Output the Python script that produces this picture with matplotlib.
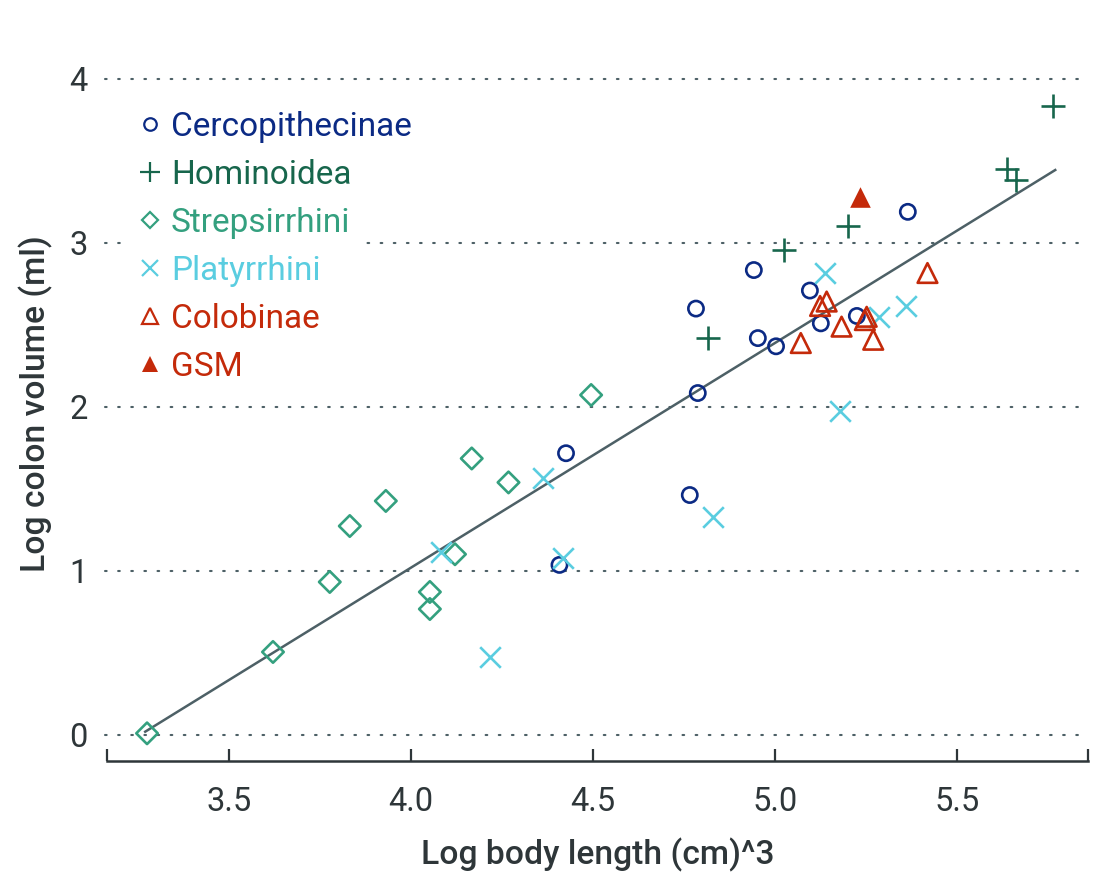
import matplotlib
matplotlib.use("Agg")
import matplotlib.pyplot as plt
from matplotlib.lines import Line2D
from matplotlib.patches import Rectangle

plt.rcParams['font.family'] = ['Roboto', 'DejaVu Sans']

# ---- data ----
cerco_x = [5.365, 4.942, 4.783, 5.096, 4.953, 5.003, 5.126, 5.225, 4.788, 4.426, 4.766, 4.408]
cerco_y = [3.19, 2.835, 2.60, 2.71, 2.42, 2.37, 2.51, 2.555, 2.085, 1.718, 1.463, 1.037]

homin_x = [5.764, 5.637, 5.662, 5.202, 5.025, 4.817]
homin_y = [3.835, 3.45, 3.385, 3.105, 2.96, 2.42]

strep_x = [3.275, 3.621, 3.777, 3.832, 3.931, 4.167, 4.268, 4.495, 4.052, 4.052, 4.121]
strep_y = [0.01, 0.506, 0.933, 1.274, 1.427, 1.686, 1.54, 2.073, 0.872, 0.768, 1.102]

platy_x = [5.137, 5.359, 5.286, 5.179, 4.363, 4.830, 4.419, 4.082, 4.217]
platy_y = [2.82, 2.618, 2.549, 1.976, 1.565, 1.329, 1.082, 1.113, 0.476]

colob_x = [5.419, 5.124, 5.142, 5.252, 5.247, 5.183, 5.270, 5.071]
colob_y = [2.817, 2.616, 2.643, 2.55, 2.53, 2.49, 2.41, 2.39]

gsm_x = [5.234]
gsm_y = [3.28]

fit_x = [3.27, 5.77]
fit_y = [0.02, 3.445]

xticks = [3.5, 4.0, 4.5, 5.0, 5.5]
yticks = [0, 1, 2, 3, 4]

# ---- style ----
c_cerco = '#0b2a84'
c_homin = '#17664c'
c_strep = '#34a07f'
c_platy = '#5acde0'
c_colob = '#c42a0a'
c_line = '#4d6066'
c_text = '#2e3639'

W, H = 1104, 891
fig = plt.figure(figsize=(W / 100, H / 100), dpi=100)
xlim = (3.165, 5.86)
ylim = (-0.16, 4.2)
ax = fig.add_axes([107 / W, (H - 761.2) / H, 981 / W, 715 / H])
ax.set_xlim(*xlim)
ax.set_ylim(*ylim)

# gridlines
for yv in yticks:
    ax.plot([xlim[0] - 0.005, 5.85], [yv, yv], color=c_line, lw=1.5,
            linestyle=(0, (0.8, 5.5)), dash_capstyle='round', zorder=1,
            clip_on=False)

ax.plot(fit_x, fit_y, color=c_line, lw=1.8, zorder=2)

lw = 1.9
ax.scatter(cerco_x, cerco_y, s=120, marker='o', facecolors='none',
           edgecolors=c_cerco, linewidths=lw, zorder=3)
ax.scatter(homin_x, homin_y, s=300, marker='+', color=c_homin,
           linewidths=lw, zorder=3)
ax.scatter(strep_x, strep_y, s=120, marker='D', facecolors='none',
           edgecolors=c_strep, linewidths=lw, zorder=3)
ax.scatter(platy_x, platy_y, s=220, marker='x', color=c_platy,
           linewidths=lw, zorder=3)
ax.scatter(colob_x, colob_y, s=200, marker='^', facecolors='none',
           edgecolors=c_colob, linewidths=lw, zorder=3)
ax.scatter(gsm_x, gsm_y, s=220, marker='^', color=c_colob,
           linewidths=0, zorder=3)

# spines
for s in ['left', 'right', 'top']:
    ax.spines[s].set_visible(False)
ax.spines['bottom'].set_color(c_text)
ax.spines['bottom'].set_linewidth(1.8)

ax.set_xticks(xticks)
ax.set_xticklabels([f'{v:.1f}' for v in xticks])
ax.set_xticks([xlim[0] + 0.001, xlim[1] - 0.001], minor=True)
ax.tick_params(axis='x', which='both', direction='in', length=9, width=1.6,
               color=c_text, labelsize=23.5, labelcolor=c_text, pad=18)
ax.set_yticks(yticks)
ax.tick_params(axis='y', length=0, labelsize=23.5, labelcolor=c_text, pad=14)

ax.set_xlabel('Log body length (cm)^3', fontsize=24.2, color=c_text,
              fontweight='medium', labelpad=14)
ax.set_ylabel('Log colon volume (ml)', fontsize=24.2, color=c_text,
              fontweight='medium', labelpad=12)

# legend background box (fixed width, text may overflow it)
ax.add_patch(Rectangle((0.0163, 0.52), 0.247, 0.41, transform=ax.transAxes,
                       facecolor='white', edgecolor='none', zorder=1.5))

handles = [
    Line2D([], [], ls='none', marker='o', mfc='none', mec=c_cerco, mew=1.6, ms=9),
    Line2D([], [], ls='none', marker='+', color=c_homin, mew=1.6, ms=14),
    Line2D([], [], ls='none', marker='D', mfc='none', mec=c_strep, mew=1.6, ms=8),
    Line2D([], [], ls='none', marker='x', color=c_platy, mew=1.6, ms=11),
    Line2D([], [], ls='none', marker='^', mfc='none', mec=c_colob, mew=1.6, ms=11),
    Line2D([], [], ls='none', marker='^', color=c_colob, mew=0, ms=12),
]
labels = ['Cercopithecinae', 'Hominoidea', 'Strepsirrhini', 'Platyrrhini',
          'Colobinae', 'GSM']
colors = [c_cerco, c_homin, c_strep, c_platy, c_colob, c_colob]
leg = ax.legend(handles, labels, loc='upper left',
                bbox_to_anchor=(28 / 981, 1 - (106 - 46.2) / 715),
                frameon=False, fontsize=24,
                handlelength=0.6, handletextpad=0.33, labelspacing=0.48,
                borderpad=0.15, borderaxespad=0)
for t, c in zip(leg.get_texts(), colors):
    t.set_color(c)
leg.set_zorder(5)

fig.savefig('out.png', dpi=100)
